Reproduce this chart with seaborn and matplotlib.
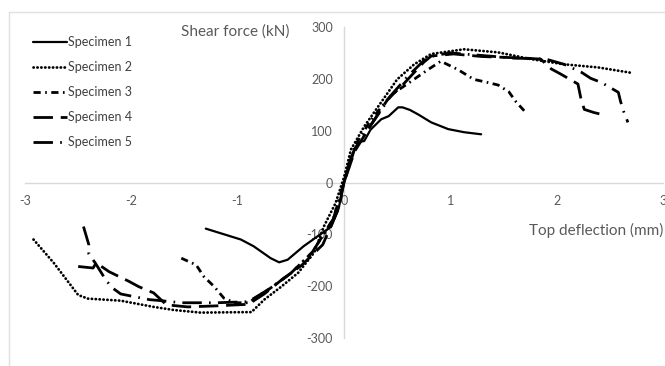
import matplotlib
matplotlib.use("Agg")
import matplotlib.pyplot as plt
from matplotlib.lines import Line2D
import seaborn as sns
import pandas as pd

# ---------------- data ----------------
labels = ["Specimen 1", "Specimen 2", "Specimen 3", "Specimen 4", "Specimen 5"]

x1 = [-1.30, -0.97, -0.85, -0.69, -0.61, -0.53, -0.38, -0.25, -0.12, -0.05, 0.0,
      0.05, 0.10, 0.16, 0.19, 0.25, 0.35, 0.42, 0.51, 0.55, 0.62, 0.70, 0.82, 0.98, 1.13, 1.29]
y1 = [-89, -110, -123, -146, -154, -149, -123, -104, -85, -50, 0,
      40, 65, 79, 80, 102, 122, 128, 145, 145, 140, 131, 116, 103, 97, 93]

x2 = [-2.92, -2.73, -2.50, -2.41, -2.10, -1.79, -1.60, -1.35, -0.87, -0.75, -0.59, -0.43,
      -0.28, -0.19, -0.08, 0.0, 0.066, 0.19, 0.35, 0.50, 0.66, 0.82, 1.13, 1.45, 1.76, 2.07, 2.39, 2.72]
y2 = [-110, -155, -217, -224, -228, -240, -246, -251, -250, -226, -201, -174,
      -135, -85, -40, 10, 64, 108, 155, 199, 228, 248, 257, 251, 238, 228, 222, 211]

x3 = [-1.53, -1.39, -1.32, -1.22, -1.13, -1.03, -0.90, -0.70, -0.50, -0.30, -0.10, 0.0,
      0.10, 0.25, 0.45, 0.63, 0.77, 0.91, 1.07, 1.22, 1.35, 1.45, 1.55, 1.62, 1.71]
y3 = [-146, -159, -181, -201, -223, -232, -232, -205, -175, -135, -70, 0,
      70, 120, 170, 195, 215, 234, 218, 199, 193, 188, 175, 155, 135]

x4 = [-2.50, -2.36, -2.33, -2.21, -2.02, -1.93, -1.79, -1.67, -1.47, -1.20, -0.90, -0.75,
      -0.60, -0.40, -0.20, -0.05, 0.0, 0.10, 0.25, 0.41, 0.56, 0.60, 0.75, 0.82, 1.03, 1.30,
      1.70, 1.85, 1.95, 2.04, 2.20, 2.23, 2.26, 2.35, 2.45]
y4 = [-162, -165, -155, -172, -191, -201, -213, -236, -240, -238, -235, -215,
      -190, -160, -120, -50, 0, 60, 110, 160, 190, 199, 232, 244, 248, 243,
      240, 238, 219, 209, 190, 160, 141, 135, 130]

x5 = [-2.45, -2.40, -2.40, -2.34, -2.24, -2.18, -2.10, -1.93, -1.83, -1.72, -1.53, -1.20,
      -0.90, -0.70, -0.50, -0.30, -0.10, 0.0, 0.10, 0.30, 0.45, 0.60, 0.75, 0.85, 1.00,
      1.30, 1.60, 1.90, 2.07, 2.23, 2.32, 2.42, 2.58, 2.60, 2.63, 2.67]
y5 = [-85, -120, -138, -155, -188, -203, -215, -222, -226, -228, -232, -232,
      -230, -205, -175, -135, -70, 0, 65, 125, 170, 205, 235, 245, 250,
      245, 240, 238, 228, 213, 201, 193, 174, 157, 137, 116]

x_ticks = [-3, -2, -1, 0, 1, 2, 3]
y_ticks = [-300, -200, -100, 0, 100, 200, 300]

# ---------------- styling ----------------
series = [(x1, y1), (x2, y2), (x3, y3), (x4, y4), (x5, y5)]
styles = [
    dict(linestyle="-", linewidth=1.6),
    dict(linestyle=(0, (0.1, 1.3)), linewidth=2.0, dash_capstyle="round"),
    dict(linestyle=(0, (2.6, 1.6, 0.6, 1.6)), linewidth=2.0),
    dict(linestyle=(0, (7, 2.8)), linewidth=2.0),
    dict(linestyle=(0, (7, 2.6, 0.6, 2.6)), linewidth=2.0),
]

sns.set_theme(style="white")
plt.rcParams["font.family"] = ["Lato", "DejaVu Sans"]

fig = plt.figure(figsize=(6.65, 3.66), dpi=100)
ax = fig.add_axes([25 / 665, (366 - 338) / 366, 638 / 665, 311 / 366])

for (xs, ys), lab, st in zip(series, labels, styles):
    df = pd.DataFrame({"x": xs, "y": ys})
    sns.lineplot(data=df, x="x", y="y", sort=False, estimator=None, ax=ax,
                 color="black", label=lab, **st)

ax.set_xlim(-3, 3)
ax.set_ylim(-300, 300)
ax.set_xticks(x_ticks)
ax.set_yticks(y_ticks)
ax.set_xticklabels([str(v) for v in x_ticks])
ax.set_yticklabels([str(v) for v in y_ticks])
ax.set_xlabel("")
ax.set_ylabel("")

for side in ["top", "right"]:
    ax.spines[side].set_visible(False)
for side in ["left", "bottom"]:
    ax.spines[side].set_position(("data", 0))
    ax.spines[side].set_color("#d9d9d9")
    ax.spines[side].set_linewidth(1.0)
    ax.spines[side].set_zorder(0)

ax.tick_params(axis="x", length=0, pad=9, labelsize=9, colors="#595959")
ax.tick_params(axis="y", length=0, pad=8, labelsize=9, colors="#595959")
ax.patch.set_alpha(0)

leg = ax.legend(loc="upper left", bbox_to_anchor=(33 / 665, 1 - 36 / 366),
                bbox_transform=fig.transFigure, frameon=False, fontsize=9,
                handlelength=2.7, handletextpad=0.1, labelspacing=1.05,
                borderpad=0, borderaxespad=0)
for t in leg.get_texts():
    t.set_color("#404040")

fig.text(181 / 665, 1 - 32 / 366, "Shear force (kN)", fontsize=11, color="#595959",
         ha="left", va="center")
fig.text(529 / 665, 1 - 230 / 366, "Top deflection (mm)", fontsize=11, color="#595959",
         ha="left", va="center")

# outer chart border (light grey)
fig.add_artist(Line2D([9 / 665, 1.0], [1 - 12 / 366, 1 - 12 / 366],
                      transform=fig.transFigure, color="#e0e0e0", lw=1.0))
fig.add_artist(Line2D([9 / 665, 9 / 665], [0.0, 1 - 12 / 366],
                      transform=fig.transFigure, color="#e0e0e0", lw=1.0))

fig.savefig("out.png", dpi=100, facecolor="white")
